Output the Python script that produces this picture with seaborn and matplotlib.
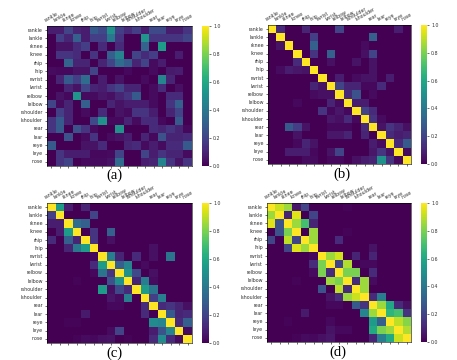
import matplotlib
matplotlib.use("Agg")
import matplotlib.pyplot as plt
import seaborn as sns
import pandas as pd

joints = ["rankle", "lankle", "rknee", "lknee", "rhip", "lhip", "rwrist", "lwrist", "relbow",
          "lelbow", "rshoulder", "lshoulder", "rear", "lear", "reye", "leye", "nose"]
captions = ["(a)", "(b)", "(c)", "(d)"]

matrix_a = [
    [.08, .08, .2, .1, .08, .28, .22, .5, .18, .12, .18, .08, .22, .22, .08, .08, .15],
    [0, .18, .1, .3, .08, .18, .18, .4, .15, 0, 0, .52, .15, .15, .15, .15, .2],
    [0, .05, .05, .12, .18, 0, .12, 0, .12, 0, 0, .32, 0, .55, 0, 0, 0],
    [0, .15, .15, .12, 0, .15, 0, .3, .45, 0, .2, .12, .18, 0, 0, .08, 0],
    [0, 0, .32, .1, .1, 0, .1, .2, .35, .28, .1, .2, .03, .08, 0, 0, 0],
    [.03, .02, .02, .05, .05, .2, 0, 0, 0, .02, 0, 0, .03, 0, .07, .08, 0],
    [0, .1, .28, .18, .35, 0, .08, 0, .05, 0, 0, .03, 0, .45, .1, 0, 0],
    [0, 0, .1, .05, .2, .1, .08, .15, .2, .1, .1, 0, .03, .12, 0, .04, 0],
    [0, .05, .02, .52, .03, .03, .06, .04, .1, .15, .28, 0, .03, 0, .12, .12, 0],
    [.2, .03, .1, 0, .3, 0, 0, .1, .05, .08, .08, .08, .03, 0, .15, .3, 0],
    [0, .18, .1, 0, .03, 0, .12, 0, .05, .03, .15, .15, .08, 0, .1, .2, 0],
    [.15, .28, .1, 0, 0, .22, .5, .02, .02, .1, .03, .12, .12, .02, 0, .28, 0],
    [.15, .28, 0, .25, .15, .03, 0, 0, .5, 0, 0, 0, .12, .1, .15, .1, .02],
    [0, 0, .25, 0, .03, .15, 0, .03, .05, .08, 0, .1, .02, .25, .1, .1, .12],
    [.28, 0, 0, 0, .05, .05, .12, 0, 0, .1, .12, .03, .08, .03, .12, .12, .28],
    [0, .15, .08, .08, .08, .02, .02, .03, .2, 0, 0, .2, .08, .15, .1, .1, .03],
    [0, .15, .2, 0, .02, .03, .03, .05, .35, 0, 0, .08, .1, .45, .15, .05, .15],
]

matrix_b = [
    [1, .12, 0, 0, .1, 0, 0, 0, .2, 0, 0, 0, 0, 0, 0, .08, 0],
    [0, 1, 0, 0, 0, .18, 0, 0, 0, 0, 0, 0, .3, 0, 0, 0, 0],
    [0, .05, 1, 0, 0, .3, 0, 0, 0, 0, 0, .03, 0, 0, 0, 0, 0],
    [0, 0, 0, 1, 0, .15, 0, .3, 0, 0, 0, .04, .2, 0, 0, 0, 0],
    [0, 0, 0, .12, 1, 0, 0, .04, 0, 0, .05, 0, .05, 0, 0, 0, 0],
    [0, .03, .08, .06, .05, 1, 0, 0, 0, 0, 0, 0, .05, 0, 0, 0, 0],
    [0, 0, 0, 0, 0, 0, 1, 0, .08, 0, .03, .05, .05, 0, .08, 0, 0],
    [0, 0, 0, 0, 0, .1, .05, 1, .2, .1, .1, .02, .02, .12, 0, 0, 0],
    [0, 0, 0, 0, 0, .03, .04, .04, 1, .12, .25, 0, .03, 0, 0, 0, 0],
    [0, 0, 0, .02, 0, 0, 0, .1, .03, 1, .08, .08, 0, 0, 0, 0, 0],
    [0, 0, 0, 0, 0, 0, .15, .02, .06, .02, 1, .2, .12, 0, 0, 0, 0],
    [0, 0, 0, 0, 0, 0, 0, .06, .04, .12, .02, 1, .15, .03, 0, 0, 0],
    [0, 0, .28, .18, .05, 0, 0, .02, .02, .02, 0, .12, 1, .05, .15, .1, .04],
    [0, 0, 0, .05, 0, 0, 0, .06, .06, .1, 0, .1, 0, 1, .12, .08, .1],
    [0, 0, 0, .02, .1, .05, 0, 0, 0, 0, 0, 0, .08, .03, 1, .12, .28],
    [0, 0, .08, .08, .08, .02, 0, .05, .2, 0, 0, 0, .06, .15, .05, 1, .03],
    [0, 0, 0, 0, .03, .03, 0, .02, .02, 0, .04, .08, .1, .5, .15, .02, 1],
]

matrix_c = [
    [1, .55, .08, 0, .1, 0, 0, 0, 0, 0, 0, 0, 0, 0, 0, 0, 0],
    [.18, 1, 0, 0, 0, .2, 0, 0, 0, 0, 0, 0, 0, 0, 0, 0, 0],
    [.08, .08, 1, .35, .3, 0, 0, 0, 0, 0, 0, 0, 0, 0, 0, 0, 0],
    [0, .08, .55, 1, 0, .15, 0, .3, 0, 0, 0, 0, 0, 0, 0, 0, 0],
    [.12, 0, .3, .1, 1, .15, 0, .04, 0, 0, 0, 0, 0, 0, 0, 0, 0],
    [0, 0, .1, .4, .55, 1, 0, 0, 0, 0, 0, 0, .04, 0, 0, 0, 0],
    [0, 0, 0, 0, 0, .02, 1, .42, .1, 0, .12, 0, .04, 0, .38, 0, 0],
    [0, 0, 0, 0, 0, .12, .55, 1, .3, .45, 0, .03, 0, 0, 0, 0, 0],
    [0, 0, 0, 0, 0, .02, .38, .15, 1, .5, .22, 0, .04, 0, 0, 0, 0],
    [0, 0, 0, .01, 0, 0, 0, .25, .5, 1, .1, .42, .03, 0, 0, 0, 0],
    [0, 0, 0, 0, 0, 0, .55, .04, .22, .12, 1, .55, .38, 0, 0, 0, 0],
    [0, 0, 0, 0, 0, 0, 0, .06, .03, .42, 0, 1, .18, .42, 0, 0, 0],
    [0, 0, 0, 0, 0, 0, 0, .02, .02, 0, 0, .12, 1, .12, .15, .1, .04],
    [0, 0, 0, 0, .07, 0, 0, 0, 0, 0, 0, .12, 0, 1, .28, .1, .12],
    [0, 0, .01, .01, 0, 0, 0, 0, 0, 0, 0, 0, .48, .45, 1, .12, .3],
    [0, 0, 0, 0, 0, 0, 0, .03, .2, 0, 0, 0, .08, .25, .45, 1, .03],
    [0, 0, 0, .01, .03, .02, .04, .05, 0, .01, 0, 0, .12, .48, .12, .03, 1],
]

matrix_d = [
    [1, .92, .85, .06, .2, 0, 0, 0, 0, .01, 0, 0, 0, 0, 0, 0, 0],
    [.85, 1, .1, .95, 0, .2, 0, 0, 0, 0, 0, 0, 0, 0, 0, 0, 0],
    [.95, .25, 1, .85, .7, .1, 0, 0, 0, 0, 0, 0, 0, 0, 0, 0, 0],
    [0, .25, .8, 1, 0, .85, 0, 0, 0, .01, 0, 0, 0, 0, 0, 0, 0],
    [.2, 0, .9, .2, 1, .85, 0, 0, .12, 0, 0, 0, 0, 0, 0, 0, 0],
    [0, 0, .2, .95, .85, 1, 0, 0, 0, 0, 0, 0, .05, 0, 0, 0, 0],
    [0, 0, 0, 0, 0, .02, 1, .85, .93, 0, .1, 0, .1, 0, 0, 0, 0],
    [0, 0, 0, 0, 0, .12, .8, 1, .2, .88, 0, .02, .02, 0, 0, 0, 0],
    [0, 0, 0, 0, 0, .03, .8, .12, 1, .8, .8, 0, .12, 0, 0, 0, 0],
    [0, 0, 0, .01, 0, 0, 0, .85, .8, 1, .12, .85, .03, 0, 0, 0, 0],
    [0, 0, 0, 0, 0, 0, .25, 0, .9, .12, 1, .85, 0, 0, 0, 0, 0],
    [0, 0, 0, 0, 0, 0, 0, .05, .12, .85, .92, 1, .12, .42, 0, 0, 0],
    [0, 0, 0, 0, 0, 0, 0, .02, .02, 0, .28, .15, 1, .85, .6, .12, .04],
    [0, 0, 0, 0, .07, 0, 0, 0, 0, 0, 0, .45, .85, 1, .65, .7, .15],
    [0, 0, .01, 0, 0, 0, 0, .02, 0, 0, 0, 0, .55, .3, 1, .9, .82],
    [0, 0, 0, 0, 0, 0, 0, .05, .02, .02, 0, 0, .6, .8, .85, 1, .88],
    [0, 0, 0, .01, .03, .02, .04, .06, 0, 0, 0, 0, .1, .42, .6, .92, 1],
]

matrices = [matrix_a, matrix_b, matrix_c, matrix_d]

W, H = 457, 360
# left, right, top, bottom of each heatmap in pixels
boxes = [(47, 192, 26, 166), (268, 411, 25, 164), (47, 192, 203, 343), (267, 411, 203, 342)]
cbar_x = [(202, 209), (421, 427), (202, 209), (421, 427)]
caption_pos = [(114, 175), (342, 174), (114, 353), (338, 352)]


def draw_panel(fig, mat, box, cx, caption, cap_xy):
    l, r, t, b = box
    ax = fig.add_axes([l / W, 1 - b / H, (r - l) / W, (b - t) / H])
    cax = fig.add_axes([cx[0] / W, 1 - b / H, (cx[1] - cx[0]) / W, (b - t) / H])
    df = pd.DataFrame(mat, index=joints, columns=joints)
    sns.heatmap(df, ax=ax, cbar_ax=cax, cmap="viridis", vmin=0, vmax=1,
                xticklabels=True, yticklabels=True)

    # ticks stay at the bottom, labels go on top
    ax.tick_params(axis="x", bottom=True, top=False, labelbottom=False, labeltop=True,
                   labelsize=3.4, length=1.5, width=0.4, pad=1, labelcolor="#333333")
    ax.tick_params(axis="y", left=True, labelsize=3.4, length=1.5, width=0.4, pad=1.5,
                   labelcolor="#333333")
    plt.setp(ax.get_xticklabels(), rotation=30, ha="center")
    plt.setp(ax.get_yticklabels(), rotation=0)
    for s in ax.spines.values():
        s.set_visible(True)
        s.set_linewidth(0.4)

    cax.tick_params(labelsize=3.4, length=1.5, width=0.4, pad=1.5, labelcolor="#333333")
    cax.set_yticks([0, 0.2, 0.4, 0.6, 0.8, 1.0])
    fig.text(cap_xy[0] / W, 1 - cap_xy[1] / H, caption, family="Liberation Serif", fontsize=10.5,
             ha="center", va="center")


def main():
    fig = plt.figure(figsize=(W / 100, H / 100), dpi=100)
    for mat, box, cx, caption, cap_xy in zip(matrices, boxes, cbar_x, captions, caption_pos):
        draw_panel(fig, mat, box, cx, caption, cap_xy)
    fig.savefig("out.png", dpi=100)


if __name__ == "__main__":
    main()
